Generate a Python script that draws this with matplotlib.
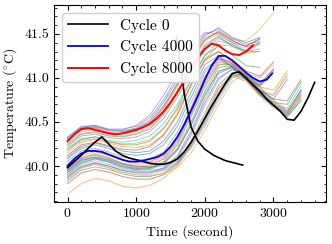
import matplotlib
matplotlib.use("Agg")
import matplotlib.pyplot as plt
from matplotlib.ticker import MultipleLocator, FormatStrFormatter

# time grid (s) shared by the background cycles
GRID = [0, 200, 400, 600, 800, 1000, 1200, 1400, 1600, 1800,
        2000, 2200, 2400, 2600, 2800, 3000, 3200, 3400]

# cycles that peak around 41.0-41.25 and fall back with a hook at the end
lower_runs = [
    [40.08, 40.20, 40.24, 40.20, 40.14, 40.12, 40.14, 40.24, 40.45, 40.78, 41.10, 41.22, 41.12, 40.98, 40.90, 41.08],
    [39.68, 39.80, 39.86, 39.83, 39.77, 39.75, 39.78, 39.86, 40.00, 40.22, 40.52, 40.85, 41.02, 40.96, 40.80, 40.66, 40.58, 40.80],
    [39.90, 40.03, 40.08, 40.05, 39.99, 39.96, 39.97, 40.03, 40.20, 40.50, 40.85, 41.12, 41.14, 41.00, 40.82, 40.72, 40.70, 40.95],
    [40.02, 40.15, 40.18, 40.13, 40.07, 40.04, 40.05, 40.12, 40.32, 40.66, 41.02, 41.22, 41.18, 41.03, 40.92, 41.10],
    [39.88, 40.00, 40.04, 40.00, 39.95, 39.93, 39.93, 39.98, 40.12, 40.40, 40.76, 41.05, 41.12, 41.02, 40.84, 40.70, 40.62, 40.85],
    [39.93, 40.06, 40.10, 40.06, 40.00, 39.97, 39.98, 40.05, 40.24, 40.56, 40.90, 41.15, 41.16, 41.02, 40.86, 40.76, 40.98],
    [39.85, 39.97, 40.02, 39.98, 39.93, 39.90, 39.90, 39.95, 40.08, 40.34, 40.68, 40.98, 41.10, 41.03, 40.86, 40.72, 40.60, 40.82],
    [40.05, 40.17, 40.20, 40.16, 40.10, 40.07, 40.08, 40.16, 40.38, 40.72, 41.06, 41.24, 41.16, 41.02, 40.94, 41.10],
    [39.97, 40.10, 40.14, 40.10, 40.03, 40.00, 40.01, 40.08, 40.26, 40.58, 40.93, 41.16, 41.14, 40.98, 40.84, 40.82, 41.05],
    [39.92, 40.04, 40.08, 40.04, 39.98, 39.95, 39.96, 40.02, 40.18, 40.47, 40.82, 41.08, 41.12, 40.98, 40.80, 40.68, 40.66, 40.90],
    [39.87, 39.99, 40.03, 40.00, 39.95, 39.92, 39.92, 39.97, 40.10, 40.37, 40.72, 41.00, 41.10, 41.00, 40.82, 40.68, 40.60, 40.86],
    [39.98, 40.12, 40.16, 40.12, 40.06, 40.02, 40.03, 40.10, 40.30, 40.63, 40.98, 41.20, 41.17, 41.03, 40.90, 40.86, 41.08],
    [39.83, 39.95, 39.99, 39.96, 39.91, 39.88, 39.88, 39.92, 40.04, 40.28, 40.60, 40.92, 41.06, 41.00, 40.84, 40.70, 40.58, 40.78],
    [39.80, 39.92, 39.96, 39.93, 39.88, 39.85, 39.85, 39.90, 40.02, 40.25, 40.56, 40.88, 41.04, 40.98, 40.82, 40.68, 40.56, 40.75],
    [39.95, 40.08, 40.12, 40.08, 40.02, 39.99, 40.00, 40.08, 40.28, 40.60, 40.95, 41.18, 41.15, 41.00, 40.85, 40.80, 41.02],
    [39.95, 40.07, 40.10, 40.07, 40.02, 39.98, 39.98, 40.03, 40.18, 40.46, 40.80, 41.07, 41.13, 41.02, 40.86, 40.76, 40.74, 40.98],
]

# slowest cycles, rising later than cycle 0
late_runs = [
    [39.90, 40.02, 40.06, 40.02, 39.97, 39.94, 39.93, 39.95, 40.02, 40.20, 40.45, 40.75, 41.00, 41.05, 40.90, 40.72, 40.60, 40.82],
    [39.96, 40.09, 40.13, 40.09, 40.03, 40.00, 39.99, 40.00, 40.06, 40.24, 40.50, 40.80, 41.03, 41.04, 40.88, 40.74, 40.62, 40.86],
    [39.86, 39.98, 40.02, 39.98, 39.93, 39.90, 39.89, 39.91, 39.98, 40.15, 40.40, 40.70, 40.96, 41.04, 40.90, 40.75, 40.64, 40.80],
    [39.93, 40.05, 40.09, 40.05, 40.00, 39.96, 39.95, 39.97, 40.04, 40.22, 40.48, 40.78, 41.02, 41.06, 40.86, 40.70, 40.56, 40.74],
]

# cycles between the two groups
middle_runs = [
    [40.10, 40.22, 40.26, 40.22, 40.17, 40.15, 40.17, 40.28, 40.50, 40.84, 41.15, 41.25, 41.12, 40.98, 40.92, 41.06],
    [40.15, 40.27, 40.30, 40.26, 40.22, 40.21, 40.24, 40.36, 40.60, 40.93, 41.22, 41.30, 41.18, 41.05, 41.00, 41.15],
    [40.18, 40.30, 40.33, 40.28, 40.24, 40.24, 40.28, 40.42, 40.66, 40.98, 41.26, 41.36, 41.26, 41.14, 41.12],
    [40.12, 40.24, 40.27, 40.23, 40.19, 40.18, 40.22, 40.35, 40.58, 40.92, 41.20, 41.30, 41.20, 41.08, 41.02, 41.18],
]

# late cycles that peak near 41.5
upper_runs = [
    [40.33, 40.45, 40.46, 40.42, 40.42, 40.45, 40.55, 40.75, 41.02, 41.30, 41.50, 41.55, 41.45, 41.38, 41.42],
    [40.30, 40.42, 40.44, 40.40, 40.39, 40.42, 40.50, 40.68, 40.94, 41.22, 41.45, 41.52, 41.42, 41.36, 41.44],
    [40.25, 40.37, 40.39, 40.35, 40.34, 40.37, 40.44, 40.60, 40.85, 41.13, 41.38, 41.48, 41.40, 41.32, 41.38],
    [40.22, 40.34, 40.36, 40.32, 40.31, 40.33, 40.39, 40.54, 40.78, 41.06, 41.32, 41.45, 41.38, 41.30, 41.33],
    [40.27, 40.39, 40.41, 40.37, 40.36, 40.39, 40.46, 40.63, 40.90, 41.18, 41.42, 41.50, 41.44, 41.42, 41.55, 41.74],
    [40.20, 40.31, 40.33, 40.29, 40.27, 40.29, 40.34, 40.48, 40.70, 40.98, 41.25, 41.42, 41.38, 41.30, 41.30],
    [40.32, 40.44, 40.46, 40.41, 40.40, 40.43, 40.52, 40.72, 40.98, 41.26, 41.48, 41.57, 41.46, 41.40, 41.46],
    [40.18, 40.29, 40.31, 40.27, 40.25, 40.26, 40.30, 40.43, 40.64, 40.92, 41.20, 41.38, 41.36, 41.28, 41.30],
    [40.24, 40.36, 40.38, 40.34, 40.33, 40.36, 40.42, 40.58, 40.82, 41.10, 41.36, 41.47, 41.36, 41.30, 41.40],
    [40.29, 40.41, 40.43, 40.38, 40.37, 40.40, 40.48, 40.66, 40.92, 41.20, 41.43, 41.53, 41.43, 41.35, 41.40],
    [40.31, 40.43, 40.45, 40.41, 40.41, 40.46, 40.58, 40.80, 41.08, 41.35, 41.52, 41.50, 41.40, 41.36, 41.45],
]

# highlighted cycles
cycle0_t = [0, 100, 200, 300, 400, 500, 600, 700, 800, 900, 1000, 1100, 1200, 1300, 1400,
            1500, 1600, 1700, 1800, 1900, 2000, 2100, 2200, 2300, 2400, 2500, 2600, 2700,
            2800, 2900, 3000, 3100, 3200, 3300, 3400, 3500, 3600]
cycle0_T = [39.98, 40.05, 40.12, 40.20, 40.27, 40.33, 40.25, 40.17, 40.12, 40.09, 40.07, 40.05,
            40.03, 40.02, 40.02, 40.04, 40.08, 40.16, 40.27, 40.40, 40.54, 40.68, 40.81, 40.94,
            41.05, 41.07, 41.00, 40.92, 40.85, 40.76, 40.69, 40.62, 40.53, 40.52, 40.62, 40.77, 40.95]
cycle0_tail_t = [1575, 1590, 1605, 1640, 1700, 1800, 1900, 2000, 2130, 2300, 2550]
cycle0_tail_T = [41.41, 41.47, 41.40, 41.18, 40.82, 40.44, 40.28, 40.19, 40.12, 40.06, 40.01]

cycle4000_t = [0, 100, 200, 300, 400, 500, 600, 700, 800, 900, 1000, 1100, 1200, 1300, 1400,
               1500, 1600, 1700, 1800, 1900, 2000, 2100, 2200, 2300, 2400, 2500, 2600, 2700,
               2800, 2900, 2980]
cycle4000_T = [40.00, 40.08, 40.14, 40.17, 40.17, 40.16, 40.13, 40.10, 40.07, 40.05, 40.05, 40.06,
               40.08, 40.10, 40.14, 40.22, 40.33, 40.47, 40.63, 40.80, 40.98, 41.14, 41.25, 41.25,
               41.20, 41.13, 41.06, 41.00, 40.96, 40.98, 41.05]

cycle8000_t = [0, 100, 200, 300, 400, 500, 600, 700, 800, 900, 1000, 1100, 1200, 1300, 1400,
               1500, 1600, 1700, 1800, 1900, 2000, 2100, 2200, 2300, 2400, 2500, 2600, 2700]
cycle8000_T = [40.28, 40.36, 40.42, 40.43, 40.41, 40.39, 40.37, 40.36, 40.37, 40.39, 40.41, 40.44,
               40.48, 40.54, 40.62, 40.72, 40.84, 40.97, 41.10, 41.23, 41.33, 41.39, 41.37, 41.31,
               41.27, 41.26, 41.30, 41.37]

plt.rcParams.update({
    "font.family": "serif",
    "font.serif": ["cmr10"],
    "mathtext.fontset": "cm",
    "axes.formatter.use_mathtext": True,
    "font.size": 10,
    "axes.linewidth": 0.8,
    "xtick.direction": "in",
    "ytick.direction": "in",
    "xtick.top": True,
    "ytick.right": True,
    "xtick.major.size": 3.5,
    "ytick.major.size": 3.5,
    "xtick.minor.size": 1.8,
    "ytick.minor.size": 1.8,
    "xtick.minor.visible": True,
    "ytick.minor.visible": True,
})

fig = plt.figure(figsize=(3.32, 2.44), dpi=100)
ax = fig.add_axes([0.163, 0.172, 0.819, 0.808])

k = 0
for run in lower_runs + late_runs + middle_runs + upper_runs:
    ax.plot(GRID[:len(run)], run, color=f"C{k % 10}", lw=0.7, alpha=0.55)
    k += 1

ax.plot(cycle0_t, cycle0_T, color="black", lw=1.2, label="Cycle 0")
ax.plot(cycle0_tail_t, cycle0_tail_T, color="black", lw=1.2)
ax.plot(cycle4000_t, cycle4000_T, color="blue", lw=1.3, label="Cycle 4000")
ax.plot(cycle8000_t, cycle8000_T, color="red", lw=1.4, label="Cycle 8000")

ax.set_xlim(-195, 3765)
ax.set_ylim(39.59, 41.83)
ax.xaxis.set_major_locator(MultipleLocator(1000))
ax.xaxis.set_minor_locator(MultipleLocator(200))
ax.yaxis.set_major_locator(MultipleLocator(0.5))
ax.yaxis.set_minor_locator(MultipleLocator(0.1))
ax.yaxis.set_major_formatter(FormatStrFormatter("%.1f"))

ax.set_xlabel("Time (second)")
ax.set_ylabel(r"Temperature ($^{\circ}\mathrm{C}$)")
ax.legend(loc="upper left", fontsize=11, handlelength=2.6, framealpha=0.9, edgecolor="0.8")

fig.savefig("out.png", dpi=100)
